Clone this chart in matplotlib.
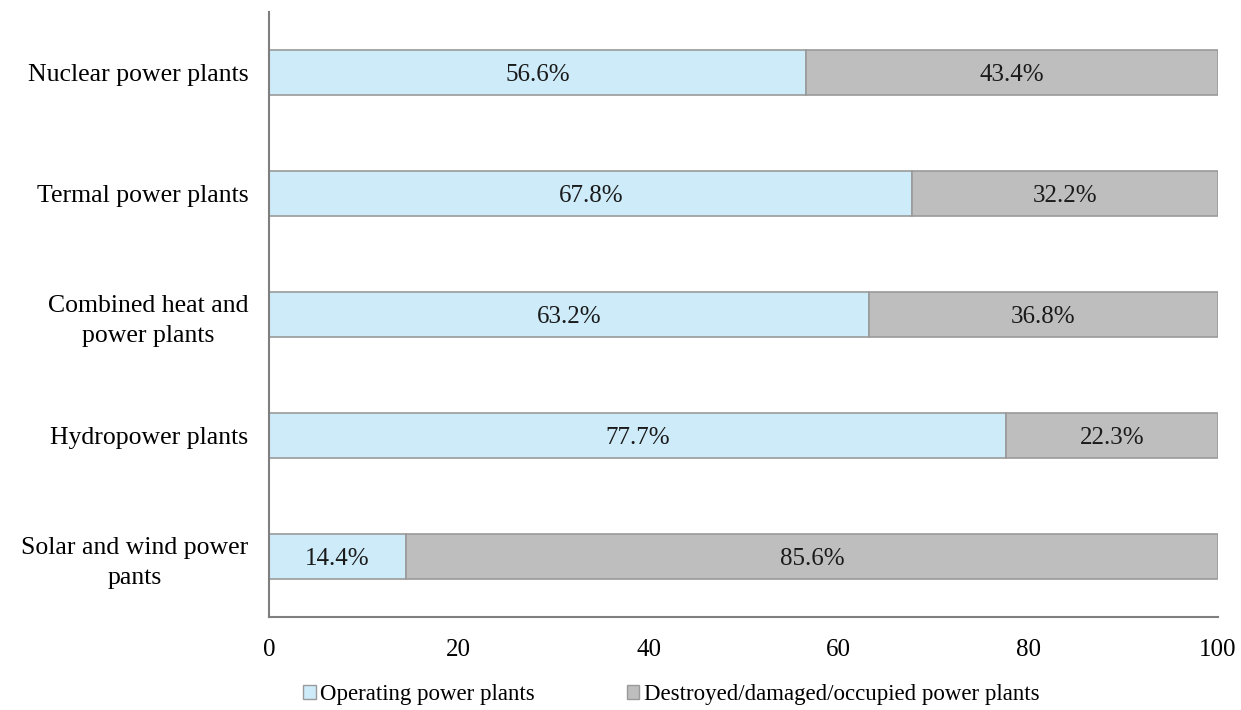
import matplotlib
matplotlib.use("Agg")
import matplotlib.pyplot as plt
from matplotlib.patches import Patch

categories = ["Solar and wind power\npants", "Hydropower plants",
              "Combined heat and\npower plants", "Termal power plants",
              "Nuclear power plants"]
operating = [14.4, 77.7, 63.2, 67.8, 56.6]
destroyed = [85.6, 22.3, 36.8, 32.2, 43.4]
series_names = ["Operating power plants", "Destroyed/damaged/occupied power plants"]
xticks = [0, 20, 40, 60, 80, 100]

plt.rcParams['font.family'] = ['Liberation Serif', 'DejaVu Serif']

c_op = '#CDEBF9'
c_de = '#BFBEBE'
edge = '#9A9A9A'

fig = plt.figure(figsize=(12.41, 7.10), dpi=100)
ax = fig.add_axes([0.2168, 0.131, 0.7647, 0.852])

y = list(range(len(categories)))
h = 0.37
ax.barh(y, operating, height=h, color=c_op, edgecolor=edge, linewidth=1.2)
ax.barh(y, destroyed, left=operating, height=h, color=c_de, edgecolor=edge, linewidth=1.2)

for i, (o, d) in enumerate(zip(operating, destroyed)):
    ax.text(o / 2, i, f"{o:.1f}%", ha='center', va='center_baseline', fontsize=18, color='#1a1a1a')
    ax.text(o + d / 2, i, f"{d:.1f}%", ha='center', va='center_baseline', fontsize=18, color='#1a1a1a')

ax.set_xlim(0, 100)
ax.set_ylim(-0.5, 4.5)
ax.set_xticks(xticks)
ax.set_xticklabels([str(t) for t in xticks], fontsize=18)
ax.set_yticks(y)
ax.set_yticklabels(categories, fontsize=18.5, multialignment='center', linespacing=1.45)
ax.tick_params(axis='y', length=0, pad=15)
ax.tick_params(axis='x', length=0, pad=16)
for s in ['top', 'right']:
    ax.spines[s].set_visible(False)
for s in ['left', 'bottom']:
    ax.spines[s].set_color('#7F7F7F')
    ax.spines[s].set_linewidth(1.5)

handles = [Patch(facecolor=c_op, edgecolor=edge, label=series_names[0]),
           Patch(facecolor=c_de, edgecolor=edge, label=series_names[1])]
fig.legend(handles=handles, loc='center', bbox_to_anchor=(0.541, 0.022), ncol=2,
           frameon=False, fontsize=16.5, handlelength=0.55, handleheight=0.55,
           handletextpad=0.2, columnspacing=4.0, borderpad=0)

fig.savefig("out.png", dpi=100, facecolor='white')
